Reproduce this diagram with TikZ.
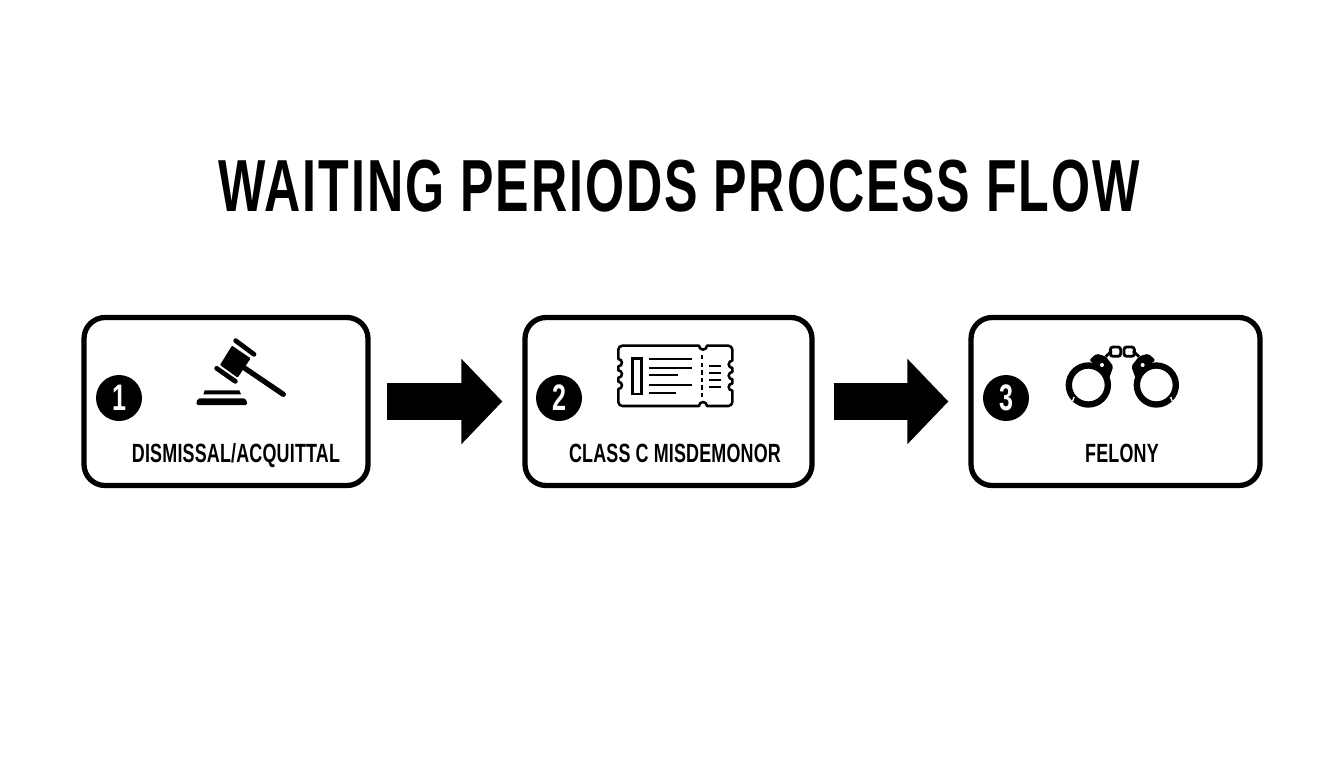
\documentclass[tikz,border=0pt]{standalone}
\usepackage{fontspec}
\usetikzlibrary{arrows.meta}
\newfontfamily\titlefont[FakeStretch=0.68,LetterSpace=2.6]{Liberation Sans}
\newfontfamily\condfont[FakeStretch=0.68,LetterSpace=0.7]{Liberation Sans}
\tikzset{
   stepbox/.style={draw,line width=3pt,rounded corners=12pt,minimum height=168*0.02cm,fill=white},
   numdot/.style={circle,fill=black,text=white,inner sep=0pt,minimum size=46*0.02cm,font=\condfont\bfseries\fontsize{21}{24}\selectfont},
   boxlabel/.style={inner sep=0pt,anchor=base,font=\condfont\bfseries\fontsize{15}{18}\selectfont},
   flowarrow/.style={line width=37*0.02cm,-{Triangle[length=41*0.02cm,width=83*0.02cm]}},
   iconline/.style={line width=1.45pt,line cap=round,line join=round}
}
\begin{document}
\begin{tikzpicture}[x=0.02cm,y=-0.02cm]
   \useasboundingbox (0,0) rectangle (1344,768);
   \node[inner sep=0pt,font=\titlefont\bfseries\fontsize{42}{50}\selectfont] (t) at (679,186) {WAITING PERIODS PROCESS FLOW};

   \node[stepbox,minimum width=284*0.02cm] (b1) at (226,401.5) {};
   \node[stepbox,minimum width=287*0.02cm] (b2) at (668.5,401.5) {};
   \node[stepbox,minimum width=289*0.02cm] (b3) at (1115.5,401.5) {};

   \node[numdot] (n1) at (119,398) {1};
   \node[numdot] (n2) at (559,398) {2};
   \node[numdot] (n3) at (1006,398) {3};

   \node[boxlabel] (l1) at (236,462) {DISMISSAL/ACQUITTAL};
   \node[boxlabel] (l2) at (675,462) {CLASS C MISDEMONOR};
   \node[boxlabel] (l3) at (1122,462) {FELONY};

   \draw[flowarrow,shorten <=16*0.02cm,shorten >=20*0.02cm] (b1) -- (b2);
   \draw[flowarrow,shorten <=19*0.02cm,shorten >=20*0.02cm] (b2) -- (b3);

   \begin{scope}[shift={(70,305)},scale=1/3]
      \fill[rounded corners=0.5pt] (486,122) -- (542,160) -- (503,218) -- (450,180) -- cycle;
      \draw[line width=2.7pt,line cap=round] (497,107) -- (552,148);
      \draw[line width=2.7pt,line cap=round] (440,190) -- (496,229);
      \draw[line width=3pt,line cap=round] (525,190) -- (640,268);
      \fill[rounded corners=1pt] (378,300) -- (383,280) -- (527,280) -- (533,300) -- cycle;
      \fill (404,256) -- (508,256) -- (513,268) -- (400,268) -- cycle;
   \end{scope}

   \begin{scope}[shift={(515,305)},scale=1/3]
      \draw[iconline] (322,122) -- (552,122) arc[start angle=180,end angle=0,radius=12] -- (640,122) arc[start angle=-90,end angle=0,radius=12] -- (652,167)
         arc[start angle=270,end angle=90,radius=11] -- (652,201) arc[start angle=270,end angle=90,radius=11] -- (652,235) arc[start angle=270,end angle=90,radius=11] -- (652,291)
         arc[start angle=0,end angle=90,radius=12] -- (576,303) arc[start angle=0,end angle=-180,radius=12] -- (322,303) arc[start angle=90,end angle=180,radius=12] -- (310,252)
         arc[start angle=90,end angle=-90,radius=11] -- (310,218) arc[start angle=90,end angle=-90,radius=11] -- (310,184) arc[start angle=90,end angle=-90,radius=11] -- (310,134)
         arc[start angle=180,end angle=270,radius=12] -- cycle;
      \draw[line width=1.5pt] (352,160) rectangle (379,267);
      \foreach \y/\e in {161/530,189/530,211/488,241/530,263/482}
         \draw[line width=1.3pt] (403,\y) -- (\e,\y);
      \foreach \y in {184,205,225,245}
         \draw[line width=1.3pt] (582,\y) -- (617,\y);
      \draw[line width=1.4pt,dash pattern=on 2.5pt off 1.8pt] (561,150) -- (561,285);
   \end{scope}

   \begin{scope}[shift={(960,305)},scale=1/3]
      \foreach \s in {1,-1} {
         \begin{scope}[shift={(487,0)},xscale=\s]
            \draw[line width=3.6pt] (-102,240) circle (58.5);
            \fill[rounded corners=1pt] (-100,166) -- (-78,146) -- (-50,154) -- (-27,184) -- (-42,226) -- (-60,192) -- cycle;
            \fill[white] (-61,180) circle (6);
            \draw[white,line width=0.8pt] (-149,288) -- (-145,276);
            \draw[line width=1.6pt] (-50,155) -- (-32,138);
            \draw[line width=1.6pt,rounded corners=1.5pt] (-36,126) rectangle (-5,154);
         \end{scope}
      }
   \end{scope}
\end{tikzpicture}
\end{document}
